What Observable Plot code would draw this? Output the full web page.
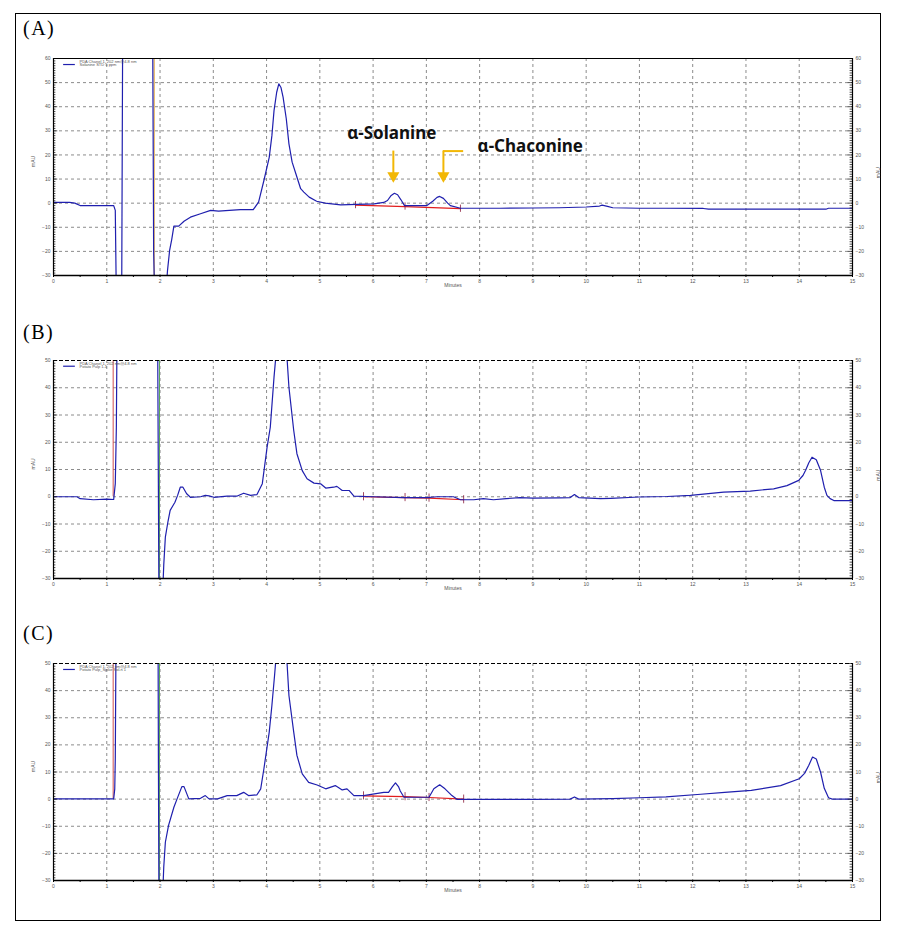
<!DOCTYPE html>
<html><head><meta charset="utf-8">
<script src="https://cdn.jsdelivr.net/npm/d3@7"></script>
<script src="https://cdn.jsdelivr.net/npm/@observablehq/plot@0.6"></script>
<style>
body{margin:0;background:#fff;}
#wrap{position:relative;width:898px;height:929px;overflow:hidden;font-family:"Liberation Sans",sans-serif;background:#fff;}
#border{position:absolute;left:15px;top:13px;width:866px;height:908px;box-sizing:border-box;border:1.5px solid #000;}
.lab{position:absolute;font-family:"Liberation Serif","DejaVu Serif",serif;font-size:20px;letter-spacing:1.5px;line-height:22px;}
.panel{position:absolute;left:0;}
</style></head><body>
<div id="wrap">
<div id="border"></div>
<div class="lab" style="left:23px;top:17px">(A)</div>
<div class="lab" style="left:23px;top:321px">(B)</div>
<div class="lab" style="left:23px;top:622px">(C)</div>
<div class="panel" id="pA" style="top:40px"></div>
<div class="panel" id="pB" style="top:345px"></div>
<div class="panel" id="pC" style="top:648px"></div>
</div>
<script>
// ---------- data (time in minutes, signal in mAU) ----------
const xTickLabels = [0,1,2,3,4,5,6,7,8,9,10,11,12,13,14,15];
const yTicksA = [-30,-20,-10,0,10,20,30,40,50,60];
const yTicksBC = [-30,-20,-10,0,10,20,30,40,50];

const traceA = [[0,0.3],[0.3,0.3],[0.4,0],[0.5,-1],[1.13,-1],[1.16,-3],[1.18,-40],[1.28,-40],[1.30,80],[1.86,80],[1.87,31],[1.88,-20],[1.90,-40],[2.10,-40],[2.14,-28],[2.18,-19.6],[2.22,-15],[2.26,-9.5],[2.35,-9.5],[2.45,-7.5],[2.57,-5.8],[2.76,-4.4],[2.95,-3],[3.1,-3.3],[3.3,-3],[3.51,-2.7],[3.75,-2.7],[3.85,0.4],[3.95,9.4],[4.05,19],[4.10,28],[4.14,38.4],[4.19,46],[4.23,49.5],[4.27,48],[4.31,44],[4.37,35],[4.42,24.6],[4.48,17],[4.55,12.2],[4.64,6],[4.70,4.6],[4.8,2.5],[4.94,0.8],[5.1,0],[5.39,-0.7],[5.7,-0.5],[6.02,-0.3],[6.2,0.3],[6.27,1.1],[6.34,3.2],[6.40,4.1],[6.46,3.5],[6.52,1.5],[6.59,-1],[7.01,-1],[7.12,0.8],[7.2,2.4],[7.25,2.8],[7.32,2],[7.40,0],[7.45,-1],[7.64,-2.1],[8.39,-2.1],[9,-2.0],[9.5,-1.9],[10,-1.6],[10.25,-1.2],[10.3,-0.8],[10.4,-1.3],[10.5,-1.9],[11,-2.1],[11.5,-2.1],[12.2,-2.2],[12.3,-2.5],[13,-2.5],[14,-2.5],[14.5,-2.5],[14.55,-2.1],[15,-2.1]];
const baseA = [[5.67,-0.8],[6.6,-1.4],[7.64,-2.3]];
const cutsA = [5.67,6.6,7.64];
const eventsA = [[1.89,-30,60]];

const traceB = [[0,0],[0.44,0],[0.5,-0.7],[0.75,-1.1],[1.0,-0.9],[1.13,-1],[1.16,4.8],[1.18,25.5],[1.2,80],[1.95,80],[1.98,-40],[2.04,-40],[2.07,-25],[2.10,-14.8],[2.15,-9],[2.19,-5],[2.28,-2],[2.33,0.5],[2.38,3.5],[2.43,3.5],[2.5,1.1],[2.57,-0.2],[2.76,0],[2.85,0.5],[2.92,0.3],[3.01,-0.2],[3.26,0.2],[3.44,0.2],[3.57,1.3],[3.70,0.5],[3.82,0.8],[3.92,4.8],[4.01,18.2],[4.07,25.5],[4.14,43.9],[4.19,55],[4.28,68],[4.37,55],[4.42,40.2],[4.51,24.3],[4.57,15.8],[4.67,9.6],[4.76,6.6],[4.89,5.0],[5.02,4.7],[5.11,3.2],[5.26,3.5],[5.32,3.8],[5.42,2.3],[5.55,2.3],[5.64,0.2],[6.01,0],[6.58,-0.3],[7.01,-0.3],[7.2,0],[7.51,0],[7.64,-1.1],[7.89,-1.1],[8.07,-0.7],[8.26,-1.1],[8.5,-0.7],[8.75,-0.3],[9.0,-0.5],[9.5,-0.4],[9.7,-0.3],[9.78,0.8],[9.86,-0.3],[10.27,-0.7],[10.46,-0.6],[10.99,-0.1],[11.52,0.1],[11.96,0.5],[12.58,1.7],[13.08,2.1],[13.52,2.9],[13.77,4.1],[13.99,6],[14.07,7.8],[14.12,9.7],[14.18,12.5],[14.24,14.5],[14.32,13.6],[14.40,9.7],[14.47,3.5],[14.52,0.5],[14.58,-0.7],[14.65,-1.4],[15,-1.4]];
const baseB = [[5.82,0],[6.6,-0.3],[7.05,-0.5],[7.70,-1.1]];
const cutsB = [5.82,6.6,7.05,7.70];
const eventsB = [[1.12,0,50],[1.99,-30,50]];

const traceC = [[0,0.1],[1.13,0.1],[1.15,3.8],[1.16,14.9],[1.18,80],[1.96,80],[1.97,12.4],[1.98,-40],[2.04,-40],[2.07,-25],[2.10,-15.9],[2.16,-9.7],[2.26,-3],[2.32,0.1],[2.41,4.6],[2.45,4.6],[2.54,0.1],[2.76,0.3],[2.85,1.3],[2.92,0.1],[3.08,0.1],[3.26,1.3],[3.44,1.3],[3.57,2.5],[3.66,1.3],[3.82,1.6],[3.89,3.8],[3.95,11.2],[4.05,24.7],[4.10,34.5],[4.15,45.6],[4.19,55],[4.28,70],[4.37,55],[4.42,38.2],[4.51,24.7],[4.57,16.1],[4.67,9.3],[4.79,6.2],[4.95,5.2],[5.11,3.8],[5.29,5.0],[5.42,3.4],[5.51,3.8],[5.64,1.3],[5.82,1.3],[6.2,2.5],[6.29,2.5],[6.36,4.5],[6.42,6.0],[6.48,4.5],[6.51,3],[6.58,0.7],[7.05,0.7],[7.14,3.8],[7.25,5.3],[7.35,3.8],[7.48,1.3],[7.58,-0.1],[8.64,-0.1],[9.0,-0.1],[9.7,0],[9.78,0.8],[9.86,0],[10.5,0.2],[11,0.5],[11.5,0.8],[12.15,1.8],[12.6,2.5],[13.1,3.2],[13.65,5],[14.0,7.5],[14.1,9.5],[14.18,12.5],[14.25,15.5],[14.32,14.8],[14.40,10],[14.47,4],[14.55,0.5],[14.62,0],[15,0]];
const baseC = [[5.82,1.2],[6.6,0.9],[7.05,0.6],[7.70,0]];
const cutsC = [5.82,6.6,7.05,7.70];
const eventsC = [[1.12,0,50],[1.99,-30,50]];

const legendLine1 = "PDA Chanel 1, 202 nm@4.8 nm";
const legendLine2 = ["Solanine STD 5 ppm", "Potato Pulp 1-1", "Potato Pulp_Spike Sol.n 1"];

// peak annotations in panel A
const annotLabels = ["α-Solanine", "α-Chaconine"];
const annotLabelX = [6.35, 7.96];
const annotLabelY = [28.9, 23.3];
const annotArrowX = [6.38, 7.32];
const annotArrowTop = [21.6, 21.6];
const annotArrowTip = [11.8, 11.8];
const annotElbowX = [null, 7.70];

// ---------- drawing ----------
const BLUE = "#1f1fae";
const GOLD = "#f2b705";
function panel({trace, base, cuts, events, yTicks, ymax, topDash, legend2, legendY, mt, mb, annotate, eventColors}) {
  const xmin = 0, xmax = 15, ymin = -30;
  const height = 260;
  const minorY = d3.range(ymin, ymax + 0.1, 1);
  const majorY = yTicks;
  const halfX = d3.range(0, 15.01, 0.5);
  const marks = [
    Plot.gridX(xTickLabels.filter(d => d > xmin && d < xmax), {stroke: "#8c8c8c", strokeOpacity: 1, strokeDasharray: "3,3"}),
    Plot.gridY(yTicks.filter(d => d > ymin && d < ymax), {stroke: "#8c8c8c", strokeOpacity: 1, strokeDasharray: "3,3"}),
    Plot.ruleX(events, {x: d => d[0], y1: d => d[1], y2: d => d[2], stroke: (d, i) => eventColors[i], strokeWidth: 1}),
    Plot.line(base, {x: d => d[0], y: d => d[1], stroke: "#e11d1d", strokeWidth: 1.2}),
    Plot.ruleX(cuts, {x: d => d, y1: (d) => interp(base, d) - 1.5, y2: (d) => interp(base, d) + 1.5, stroke: "#8a1a3a", strokeWidth: 0.8}),
    Plot.line(trace, {x: d => d[0], y: d => d[1], stroke: BLUE, strokeWidth: 1.2, clip: true}),
    Plot.ruleY([ymax], {stroke: "#000", strokeWidth: 1.2, strokeDasharray: topDash ? "4,2" : null}),
    Plot.ruleY([ymin], {stroke: "#000", strokeWidth: 1.5}),
    Plot.ruleX([xmin, xmax], {stroke: "#000", strokeWidth: 1.2}),
    Plot.ruleY(minorY, {y: d => d, x1: xmin, x2: d => xmin + (majorY.includes(d) ? 0.08 : 0.045), stroke: "#000", strokeWidth: 0.7}),
    Plot.ruleY(minorY, {y: d => d, x1: d => xmax - (majorY.includes(d) ? 0.08 : 0.045), x2: xmax, stroke: "#000", strokeWidth: 0.7}),
    Plot.axisY(yTicks, {anchor: "left", tickSize: 0, tickPadding: 3, fontSize: 5, color: "#555"}),
    Plot.axisY(yTicks, {anchor: "right", tickSize: 0, tickPadding: 3, fontSize: 5, color: "#555"}),
    Plot.axisX(halfX, {anchor: "bottom", tickSize: 2, tickFormat: () => "", color: "#000"}),
    Plot.axisX(xTickLabels, {anchor: "bottom", tickSize: 0, tickPadding: 4, fontSize: 5, color: "#555"}),
    Plot.text(["Minutes"], {frameAnchor: "bottom", dy: 11, fontSize: 5, fill: "#555"}),
    Plot.text(["mAU"], {frameAnchor: "left", dx: -20, rotate: -90, fontSize: 5, fill: "#555"}),
    Plot.text(["mAU"], {frameAnchor: "right", dx: 26, rotate: -90, fontSize: 5, fill: "#555"}),
    Plot.ruleY([legendY], {x1: 0.19, x2: 0.41, stroke: BLUE, strokeWidth: 1.2}),
    Plot.text([legendLine1 + "\n" + legend2], {frameAnchor: "top-left", dx: 26, dy: 1.5, fontSize: 4, lineHeight: 0.95, lineAnchor: "top", fill: "#555"})
  ];
  if (annotate) {
    const idx = annotLabels.map((_, i) => i);
    marks.push(
      Plot.text([0], {x: i => annotLabelX[i], y: i => annotLabelY[i], text: i => annotLabels[i], textAnchor: "middle", fontSize: 17, fontWeight: "bold", fill: "#111", fontFamily: "Noto Sans"}),
      Plot.text([1], {x: i => annotLabelX[i], y: i => annotLabelY[i], text: i => annotLabels[i], textAnchor: "start", fontSize: 17, fontWeight: "bold", fill: "#111", fontFamily: "Noto Sans"}),
      Plot.ruleX(idx, {x: i => annotArrowX[i], y1: i => annotArrowTop[i], y2: i => annotArrowTip[i], stroke: GOLD, strokeWidth: 2}),
      Plot.ruleY(idx.filter(i => annotElbowX[i] != null), {y: i => annotArrowTop[i], x1: i => annotArrowX[i], x2: i => annotElbowX[i], stroke: GOLD, strokeWidth: 2}),
      Plot.dot(idx, {x: i => annotArrowX[i], y: i => annotArrowTip[i], symbol: "triangle", rotate: 180, r: 4.5, fill: GOLD, stroke: null, dy: 1})
    );
  }
  return Plot.plot({
    width: 898, height,
    marginLeft: 53, marginRight: 46, marginTop: mt, marginBottom: mb,
    x: {domain: [xmin, xmax]},
    y: {domain: [ymin, ymax]},
    style: {fontFamily: "Liberation Sans, sans-serif", background: "transparent", overflow: "visible"},
    marks
  });
}
function interp(pts, t) {
  for (let i = 0; i < pts.length - 1; i++) {
    if (t >= pts[i][0] && t <= pts[i + 1][0]) {
      const f = (t - pts[i][0]) / (pts[i + 1][0] - pts[i][0]);
      return pts[i][1] + f * (pts[i + 1][1] - pts[i][1]);
    }
  }
  return pts[pts.length - 1][1];
}

document.getElementById("pA").append(panel({trace: traceA, base: baseA, cuts: cutsA, events: eventsA, yTicks: yTicksA, ymax: 60, topDash: false, legend2: legendLine2[0], legendY: 57.5, mt: 18, mb: 25, annotate: true, eventColors: ["#e0a030"]}));
document.getElementById("pB").append(panel({trace: traceB, base: baseB, cuts: cutsB, events: eventsB, yTicks: yTicksBC, ymax: 50, topDash: true, legend2: legendLine2[1], legendY: 47.9, mt: 15, mb: 27, annotate: false, eventColors: ["#d05050", "#5aa85a"]}));
document.getElementById("pC").append(panel({trace: traceC, base: baseC, cuts: cutsC, events: eventsC, yTicks: yTicksBC, ymax: 50, topDash: true, legend2: legendLine2[2], legendY: 47.8, mt: 15, mb: 28, annotate: false, eventColors: ["#d05050", "#5aa85a"]}));
</script>
</body></html>
